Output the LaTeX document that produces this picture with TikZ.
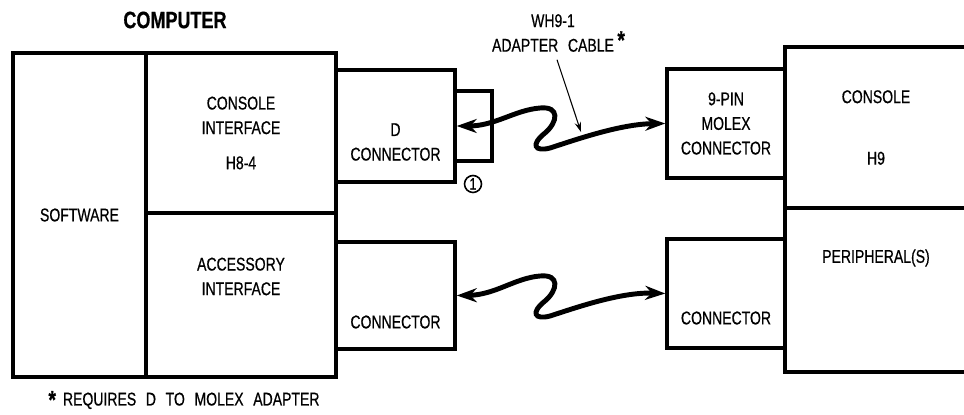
\documentclass[tikz,border=0pt]{standalone}
\usepackage{fontspec}
\setmainfont{Liberation Sans}[FakeStretch=0.76, FakeBold=0.6]
\usetikzlibrary{arrows.meta, calc}

\newcommand\lbfont{\fontsize{10.5}{14}\selectfont\spaceskip=5.5pt\relax}

\tikzset{
  box/.style={draw, line width=2pt, inner sep=0pt, align=center, font=\lbfont},
  lbl/.style={align=center, font=\lbfont, inner sep=0pt},
  cable/.style={line width=2.8pt,
    {Stealth[length=4mm,width=2.8mm]}-{Stealth[length=4mm,width=2.8mm]}},
}

\begin{document}
\begin{tikzpicture}[x=0.02cm, y=-0.02cm]
\useasboundingbox (0,0) rectangle (964,415);

% computer side
\node[box, minimum width=2.66cm, minimum height=6.48cm] (sw) at (79.5,215) {SOFTWARE};
\node[box, minimum width=3.80cm, minimum height=3.20cm] (ci) at (241,133)
  {CONSOLE\\INTERFACE\\[6pt]H8-4};
\node[box, minimum width=3.80cm, minimum height=3.28cm] (ai) at (241,295) {};
\node[lbl] (aitext) at ([yshift=3.7mm]ai.center) {ACCESSORY\\INTERFACE};

\node[box, minimum width=0.74cm, minimum height=1.40cm] (plug) at (473.5,126) {};
\node[box, minimum width=2.38cm, minimum height=2.24cm] (dcon) at (395.5,126) {};
\node[lbl] (dtext) at ([yshift=-3.2mm]dcon.center) {D\\CONNECTOR};
\node[box, minimum width=2.38cm, minimum height=2.14cm] (lcon) at (395.5,295.5) {};
\node[lbl] (ltext) at ([yshift=-5.3mm]lcon.center) {CONNECTOR};

\node[draw, circle, line width=0.9pt, inner sep=0pt, minimum size=0.34cm,
  font=\fontsize{9.5}{9.5}\selectfont] (note) at (473,184) {1};

\node[lbl, font=\fontsize{13.5}{14}\selectfont\bfseries] (comp) at (175,20) {COMPUTER};

% terminal side
\node[box, minimum width=2.36cm, minimum height=2.18cm] (molex) at (726,123.5)
  {9-PIN\\MOLEX\\CONNECTOR};
\node[box, minimum width=2.36cm, minimum height=2.18cm] (rcon) at (726,293.5) {};
\node[lbl] (rtext) at ([yshift=-4.9mm]rcon.center) {CONNECTOR};

\node[box, minimum width=3.64cm, minimum height=3.22cm] (h9) at (876,127.5)
  {CONSOLE\\[21pt]H9};
\node[box, minimum width=3.64cm, minimum height=3.28cm] (peri) at (876,290) {};
\node[lbl] (ptext) at ([yshift=6.4mm]peri.center) {PERIPHERAL(S)};

% cables
\draw[cable] (dcon.east) .. controls (495,126) and (515,110) .. (540,108)
  .. controls (560,106) and (558,122) .. (545,133)
  .. controls (530,145) and (535,152) .. (550,148)
  .. controls (575,140) and (620,124) .. (molex.west);
\draw[cable] (lcon.east) .. controls (495,295) and (515,278) .. (540,276)
  .. controls (560,274) and (558,290) .. (545,301)
  .. controls (530,313) and (535,320) .. (550,316)
  .. controls (575,308) and (620,292) .. (rcon.west);

\node[lbl] (wh) at (553,33)
  {WH9-1\\ADAPTER CABLE\rlap{\kern2pt\raisebox{0.3ex}{\Large\bfseries *}}};
\coordinate (tap) at (581,132);
\draw[line width=0.6pt, -{Stealth[length=2mm,width=1.3mm]}]
  ([xshift=0.08cm,yshift=-1.5mm]wh.south) -- (tap);

\node[lbl] (fn) at (184,400)
  {\raisebox{-0.3ex}{\Large\bfseries *}\kern4pt REQUIRES D TO MOLEX ADAPTER};
\end{tikzpicture}
\end{document}
